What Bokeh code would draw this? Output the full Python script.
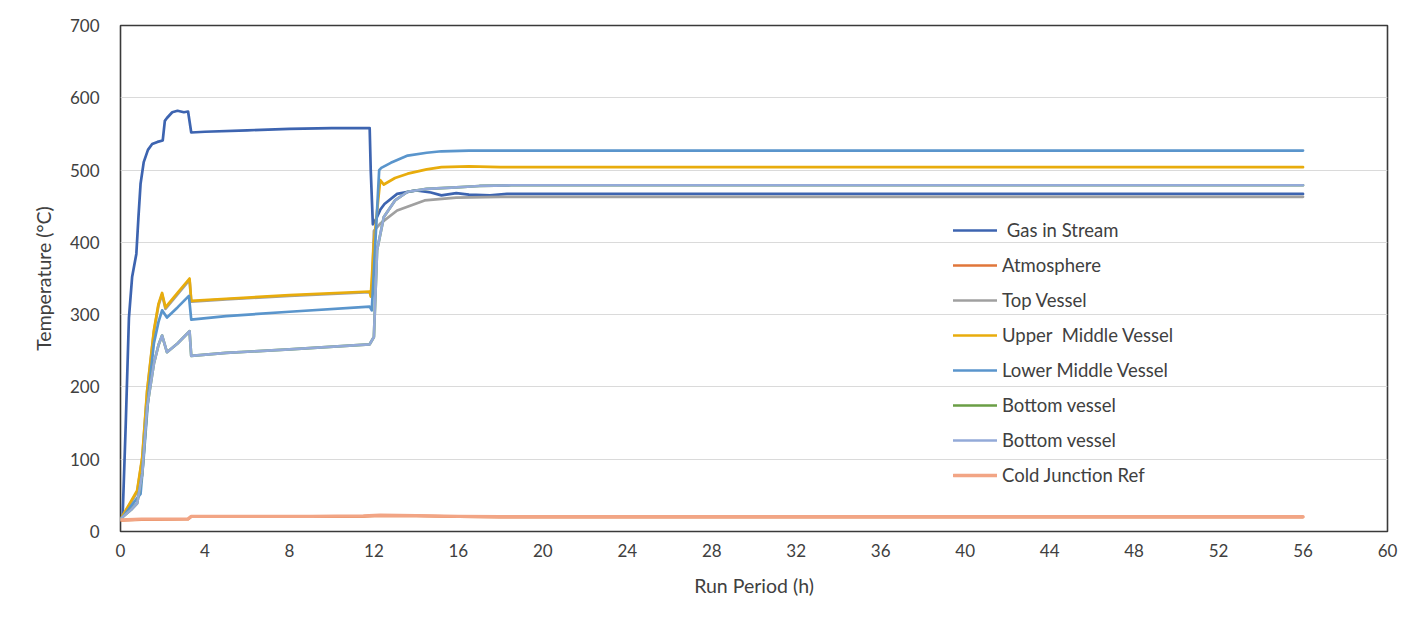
from bokeh.plotting import figure
from bokeh.models import Range1d, FixedTicker, Legend
from bokeh.embed import file_html
from bokeh.resources import INLINE

# Run time (h) and temperature (°C) readings for each thermocouple
gas_t = [0, 0.1, 0.25, 0.4, 0.55, 0.75, 0.85, 0.95, 1.1, 1.3, 1.5, 1.75, 2.0, 2.1, 2.2,
         2.45, 2.7, 3.0, 3.2, 3.35, 4, 6, 8, 10, 11.8, 11.85, 11.95, 12.1, 12.3, 12.5,
         13.1, 14.0, 14.7, 15.2, 15.9, 16.5, 17.5, 18.3, 56]
gas_temp = [16, 20, 150, 296, 352, 384, 435, 481, 511, 528, 536, 539, 541, 568, 572,
            580, 582, 580, 581, 552, 553, 555, 557, 558, 558, 500, 425, 432, 445, 453,
            467, 472, 469, 465, 468, 466, 465, 467, 467]

atm_t = [0, 1, 3.2, 3.35, 6, 9, 11.5, 12.3, 14, 16, 18, 24, 56]
atm_temp = [15.5, 16.5, 17, 20.5, 20.5, 20.5, 21, 22, 21.5, 20.5, 20, 20, 20]

top_t = [0, 0.1, 0.5, 0.79, 1.03, 1.26, 1.58, 1.8, 1.97, 2.13, 2.7, 3.27, 3.35, 5, 8,
         11.8, 11.9, 12.0, 12.3, 13.1, 14.4, 15.9, 18, 56]
top_temp = [17, 21, 40, 55, 101, 193, 276, 313, 328, 308, 328, 348, 318, 321, 326,
            331, 330, 416, 426, 444, 458, 462, 463, 463]

upper_t = [0, 0.1, 0.5, 0.79, 1.03, 1.26, 1.58, 1.8, 1.97, 2.13, 2.7, 3.27, 3.35, 5, 8,
           11.8, 11.85, 12.0, 12.3, 12.47, 13.0, 13.6, 14.5, 15.2, 16.5, 18, 56]
upper_temp = [17, 22, 42, 57, 103, 195, 278, 315, 330, 310, 330, 350, 319, 322, 327,
              332, 325, 400, 486, 480, 489, 495, 501, 504, 505, 504, 504]

lower_t = [0, 0.1, 0.5, 0.95, 1.1, 1.34, 1.58, 1.8, 1.97, 2.2, 2.7, 3.24, 3.35, 5, 8,
           11.8, 11.9, 12.25, 12.35, 12.8, 13.6, 14.5, 15.2, 16.5, 56]
lower_temp = [17, 20, 35, 52, 103, 195, 260, 290, 306, 296, 310, 326, 293, 298, 304,
              311, 306, 500, 503, 510, 520, 524, 526, 527, 527]

bottom_t = [0, 0.1, 0.5, 0.79, 1.03, 1.26, 1.58, 1.8, 1.97, 2.2, 2.7, 3.27, 3.35, 5, 8,
            11.8, 12.0, 12.15, 12.47, 13.0, 13.6, 14.5, 15.9, 17, 18.5, 56]
bottom_temp = [17, 20, 30, 39, 80, 172, 232, 258, 271, 248, 260, 277, 243, 247, 252,
               259, 269, 389, 435, 458, 470, 474, 476, 478, 479, 479]

cold_t = [0, 1, 3.2, 3.35, 6, 9, 11.5, 12.3, 14, 16, 18, 24, 56]
cold_temp = [16, 17, 17.5, 21, 21, 21, 21.5, 22.5, 22, 21, 20.5, 20.5, 20.5]

x_ticks = list(range(0, 61, 4))
y_ticks = list(range(0, 701, 100))

series = [
    (" Gas in Stream", gas_t, gas_temp, "#3D64B0", 2.7),
    ("Atmosphere", atm_t, atm_temp, "#E0763A", 2.7),
    ("Top Vessel", top_t, top_temp, "#A0A0A0", 2.7),
    ("Upper  Middle Vessel", upper_t, upper_temp, "#E8AC0C", 2.7),
    ("Lower Middle Vessel", lower_t, lower_temp, "#5A95CC", 2.7),
    ("Bottom vessel", bottom_t, bottom_temp, "#6A9E45", 2.7),
    ("Bottom vessel ", bottom_t, bottom_temp, "#93AAD8", 2.7),
    ("Cold Junction Ref", cold_t, cold_temp, "#F2A585", 3.3),
]

FONT = "Lato"

p = figure(width=1421, height=623, output_backend="svg", toolbar_location=None,
           x_range=Range1d(0, 60), y_range=Range1d(0, 700),
           min_border_left=120, min_border_right=34, min_border_top=25,
           min_border_bottom=92)

p.background_fill_color = "white"
p.border_fill_color = "white"
p.outline_line_color = "#3A3A3A"
p.outline_line_width = 1.6

items = []
for name, t, v, color, w in series:
    r = p.line(t, v, line_color=color, line_width=w, line_join="round", line_cap="round")
    items.append((name, [r]))

p.xgrid.grid_line_color = None
p.ygrid.grid_line_color = "#DADADA"
p.ygrid.grid_line_width = 1

p.xaxis.ticker = FixedTicker(ticks=x_ticks)
p.yaxis.ticker = FixedTicker(ticks=y_ticks)
for ax in (p.xaxis[0], p.yaxis[0]):
    ax.axis_line_color = None
    ax.major_tick_line_color = None
    ax.minor_tick_line_color = None
    ax.major_label_text_font = FONT
    ax.major_label_text_font_size = "17px"
    ax.major_label_text_color = "#404040"
    ax.axis_label_text_font = FONT
    ax.axis_label_text_font_size = "19.5px"
    ax.axis_label_text_font_style = "normal"
    ax.axis_label_text_color = "#404040"

p.xaxis.axis_label = "Run Period (h)"
p.yaxis.axis_label = "Temperature (°C)"
p.xaxis.major_label_standoff = 6
p.xaxis.axis_label_standoff = 14
p.yaxis.major_label_standoff = 15
p.yaxis.axis_label_standoff = 12

legend = Legend(items=items, location=(833, 45), orientation="vertical")
legend.background_fill_alpha = 0
legend.border_line_color = None
legend.padding = 0
legend.margin = 0
legend.spacing = 13
legend.glyph_width = 44
legend.glyph_height = 22
legend.label_height = 22
legend.label_standoff = 5
legend.label_text_font = FONT
legend.label_text_font_size = "18.5px"
legend.label_text_color = "#404040"
p.add_layout(legend, "center")

open("out.html", "w").write(file_html(p, INLINE))
